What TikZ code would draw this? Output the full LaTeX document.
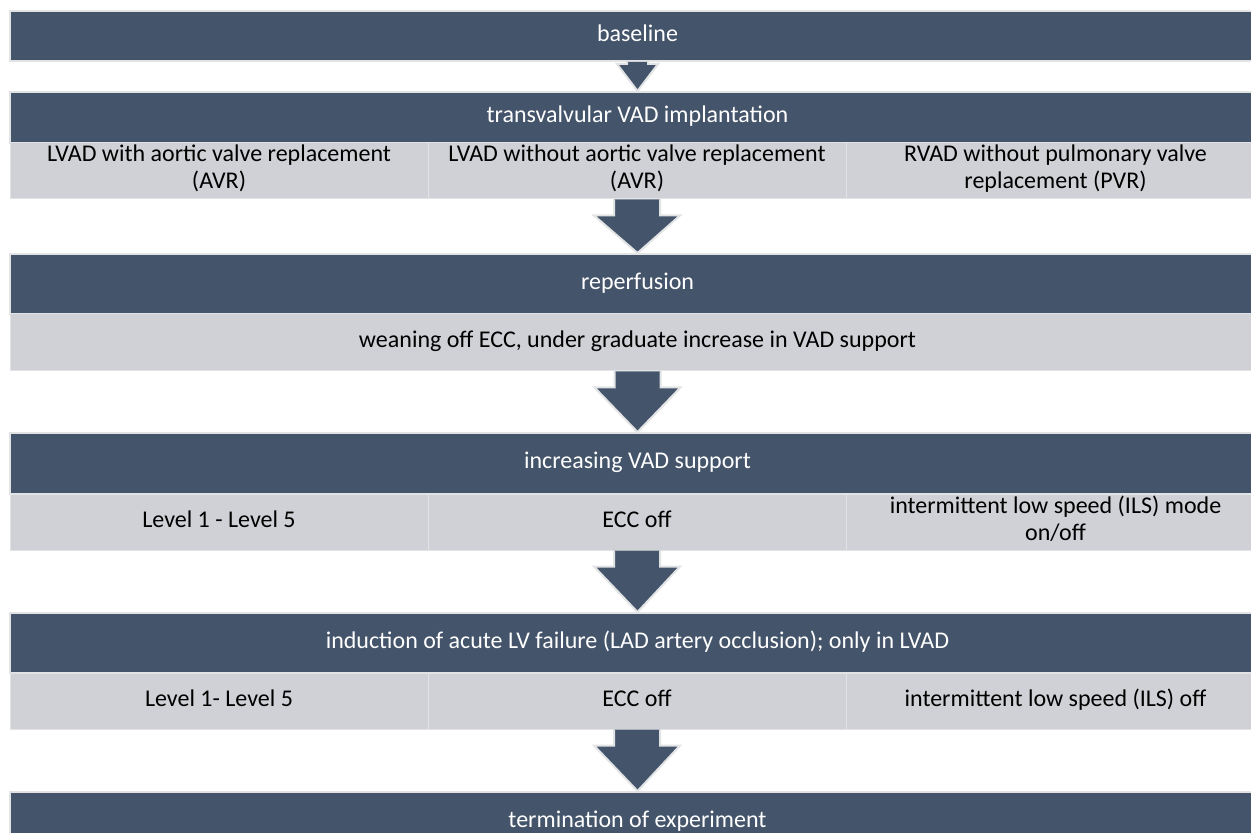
\documentclass[tikz,border=0pt]{standalone}
\usepackage{fontspec}
\setmainfont{Carlito}
\usepackage{xcolor}
\usepackage{tikz}
\usetikzlibrary{positioning, calc}
\definecolor{slateblue}{RGB}{68,84,106}
\definecolor{palegray}{RGB}{208,209,214}
\definecolor{edgegray}{RGB}{226,227,229}

\begin{document}
\begin{tikzpicture}[x=0.5pt, y=-0.5pt,
    stage/.style={rectangle, draw=edgegray, fill=slateblue, line width=1pt, text=white, minimum width=627.5pt, minimum height=30pt, inner sep=0pt, align=center, font=\fontsize{12}{13.5}\selectfont, execute at begin node=\strut},
    cell/.style={rectangle, draw=edgegray, fill=palegray, line width=0.5pt, text=black, minimum width=209pt, minimum height=28pt, inner sep=0pt, align=center, font=\fontsize{12}{13.5}\selectfont, execute at begin node=\strut},
    blockarrow/.style={fill=slateblue, draw=edgegray, line width=1pt, line join=miter}
]
    \useasboundingbox (0,0) rectangle (1251,833);

    % Stages
    \node[stage, minimum height=25pt] (base) at (637.5,36) {baseline};
    \node[stage, minimum height=25.5pt] (trans) at (637.5,117.5) {transvalvular VAD implantation};
    \node[stage] (reper) at (637.5,284) {reperfusion};
    \node[stage, minimum height=30.5pt] (incr) at (637.5,463.5) {increasing VAD support};
    \node[stage] (induct) at (637.5,643) {induction of acute LV failure (LAD artery occlusion); only in LVAD};
    \node[stage] (term) at (637.5,822) {termination of experiment};

    % Details
    \node[cell] (transA) at (219,171) {LVAD with aortic valve replacement\\(AVR)};
    \node[cell] (transB) at (637,171) {LVAD without aortic valve replacement\\(AVR)};
    \node[cell] (transC) at (1055.5,171) {RVAD without pulmonary valve\\replacement (PVR)};
    \node[cell, minimum width=627.5pt, minimum height=28.5pt] (reperB) at (637.5,342.5) {weaning off ECC, under graduate increase in VAD support};
    \node[cell] (incrA) at (219,522) {Level 1 - Level 5};
    \node[cell] (incrB) at (637,522) {ECC off};
    \node[cell] (incrC) at (1055.5,522) {intermittent low speed (ILS) mode\\on/off};
    \node[cell] (inductA) at (219,701) {Level 1- Level 5};
    \node[cell] (inductB) at (637,701) {ECC off};
    \node[cell] (inductC) at (1055.5,701) {intermittent low speed (ILS) off};

    % Arrows
    \filldraw[blockarrow] ($(base.south)+(-10.5,0)$) -- ++(0,2) -- ++(-10,0) -- (trans.north)
        -- ($(base.south)+(20.5,2)$) -- ++(-10,0) -- ++(0,-2);
    \foreach \from/\to in {transB/reper, reperB/incr, incrB/induct, inductB/term}
        \filldraw[blockarrow] ($(\from.south)+(-23,0)$) -- ++(0,16) -- ++(-20,0) -- (\to.north)
            -- ($(\from.south)+(43,16)$) -- ++(-20,0) -- ++(0,-16);

\end{tikzpicture}
\end{document}
